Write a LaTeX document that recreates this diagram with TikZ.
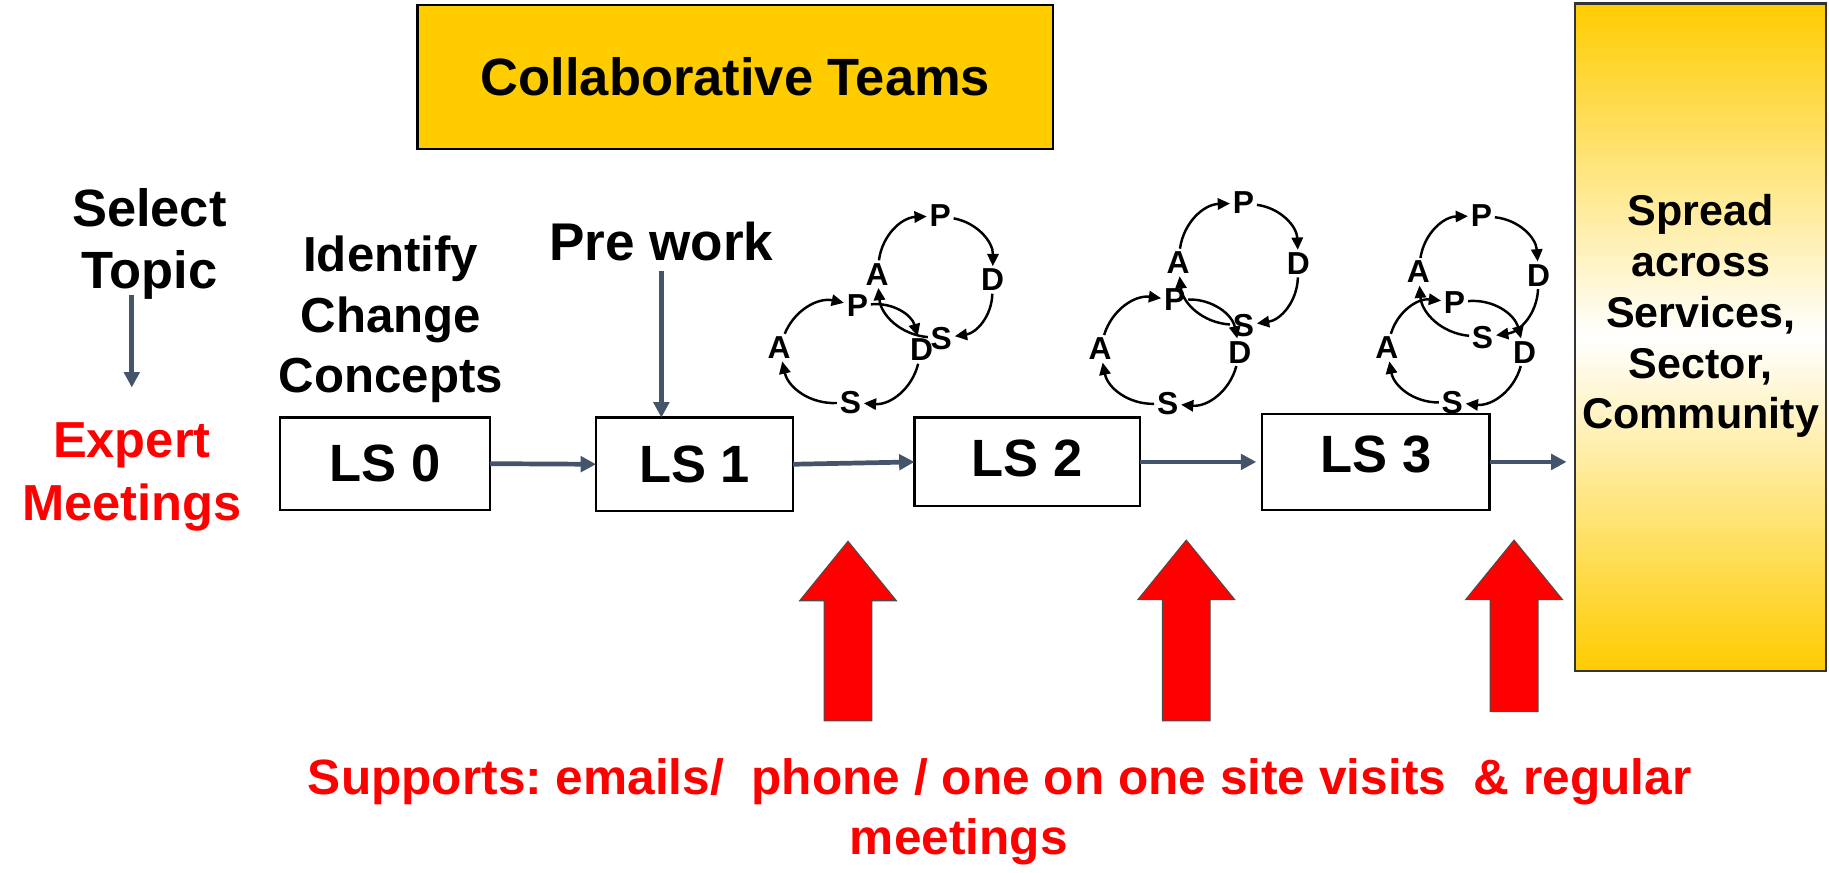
\documentclass[tikz,border=0pt]{standalone}
\usepackage{fontspec}
\setmainfont{Liberation Sans}
\usetikzlibrary{arrows.meta}
\definecolor{gold}{HTML}{FFCC00}
\definecolor{slate}{HTML}{44546A}
\definecolor{hotred}{HTML}{FF0000}
\frenchspacing

% one PDSA loop: P (top), D (right), S (bottom), A (left), arcs run clockwise
\newcommand{\pdsacycle}[5]{%
  \node[cyc] (#1P) at (#2) {P};
  \node[cyc] (#1D) at (#3) {D};
  \node[cyc] (#1S) at (#4) {S};
  \node[cyc] (#1A) at (#5) {A};
  \draw[cycarrow] (#1A) to[bend left=40] (#1P);
  \draw[cycarrow] (#1P) to[bend left=40] (#1D);
  \draw[cycarrow] (#1D) to[bend left=40] (#1S);
  \draw[cycarrow] (#1S) to[bend left=40] (#1A);
}

% upward block arrow: tip x, tip y, bottom y
\newcommand{\blockarrow}[3]{%
  \path[support] (#1,#2) -- (#1+41.5,#2+51) -- (#1+20.5,#2+51) -- (#1+20.5,#3)
    -- (#1-20.5,#3) -- (#1-20.5,#2+51) -- (#1-41.5,#2+51) -- cycle;
}

\begin{document}
\begin{tikzpicture}[x=0.02cm, y=-0.02cm,
  big/.style={font=\fontsize{25.6}{30}\selectfont\bfseries, inner sep=0pt},
  lsbox/.style={draw=black, line width=1.1pt, fill=white, inner sep=0pt, outer sep=0pt,
    font=\fontsize{25.6}{30}\selectfont\bfseries},
  flow/.style={draw=slate, line width=2.3pt, -{Triangle[length=7.5pt,width=7.5pt]}},
  cyc/.style={inner sep=1.2pt, font=\fontsize{15.5}{18}\selectfont\bfseries},
  cycarrow/.style={line width=1.2pt, -{Triangle[length=6pt,width=5.5pt]}},
  support/.style={fill=hotred, draw=black!70, line width=0.5pt}
]
\useasboundingbox (0,0) rectangle (1568,748);

% title banner
\node[draw=black, line width=1.1pt, fill=gold, inner sep=0pt, outer sep=0pt,
  minimum width=545*0.02cm, minimum height=124*0.02cm,
  font=\fontsize{25.6}{30}\selectfont\bfseries] (collab) at (630.5,66) {Collaborative Teams};

% left column
\node[big, align=center, font=\fontsize{25.6}{30}\selectfont\bfseries] (select) at (128,209) {Select\\Topic};
\node[big, align=center, text=hotred, font=\fontsize{24.7}{30.7}\selectfont\bfseries] (expert) at (113,409) {Expert\\Meetings};
\draw[flow] ([yshift=0.08cm]select.south -| expert.north) -- ([yshift=0.6cm]expert.north);

\node[big, align=center, font=\fontsize{24}{29.6}\selectfont\bfseries] (identify) at (335,274) {Identify\\Change\\Concepts};
\node[big, font=\fontsize{25.9}{30}\selectfont\bfseries] (prework) at (567,207) {Pre work};

% learning sessions
\node[lsbox, minimum width=180*0.02cm, minimum height=79*0.02cm] (ls0) at (330,397.5) {\raisebox{-0.2cm}{LS 0}};
\node[lsbox, minimum width=169*0.02cm, minimum height=80*0.02cm] (ls1) at (595.5,398) {\raisebox{-0.08cm}{LS 1}};
\node[lsbox, minimum width=193*0.02cm, minimum height=76*0.02cm] (ls2) at (880.5,396) {\raisebox{0.12cm}{LS 2}};
\node[lsbox, minimum width=195*0.02cm, minimum height=82*0.02cm] (ls3) at (1179.5,396) {\raisebox{0.26cm}{LS 3}};

% spread column
\node[draw=black!80, line width=1pt, top color=gold, bottom color=gold, middle color=white,
  inner sep=0pt, outer sep=0pt, minimum width=215*0.02cm, minimum height=572*0.02cm] (spread) at (1457.5,289) {};
\node[align=center, inner sep=0pt, font=\fontsize{21}{24.8}\selectfont\bfseries] (spreadtext) at (1458,271)
  {Spread\\across\\Services,\\Sector,\\Community};

% flow connectors
\draw[flow, shorten <=0.16cm] (prework.south) -- (prework.south |- ls1.north);
\draw[flow] (ls0.east) -- (ls1.west);
\draw[flow] (ls1.east) -- (ls2.west);
\draw[flow, shorten >=0.1cm] (ls2.east) -- (ls2.east -| ls3.west);
\draw[flow, shorten >=0.14cm] (ls3.east) -- (ls3.east -| spread.west);

% PDSA loops
\pdsacycle{a}{806,185}{851,240}{807,290}{752,235}
\pdsacycle{b}{735,262}{790,300}{729,345}{668,298}
\pdsacycle{c}{1066,174}{1113,226}{1066,279}{1010,225}
\pdsacycle{d}{1007,257}{1063,302}{1001,346}{943,299}
\pdsacycle{e}{1270,185}{1319,236}{1271,289}{1216,233}
\pdsacycle{f}{1247,259}{1307,302}{1245,345}{1189,298}

% support arrows
\blockarrow{727}{464}{618}
\blockarrow{1017}{463}{618}
\blockarrow{1298}{463}{610}

\node[big, text=hotred, font=\fontsize{24.2}{29.6}\selectfont\bfseries] (supports) at (857,670)
  {Supports: emails/~ phone / one on one site visits~ \& regular};
\node[big, text=hotred, font=\fontsize{24.2}{29.6}\selectfont\bfseries] (supports2) at (822,722) {meetings};
\end{tikzpicture}
\end{document}
